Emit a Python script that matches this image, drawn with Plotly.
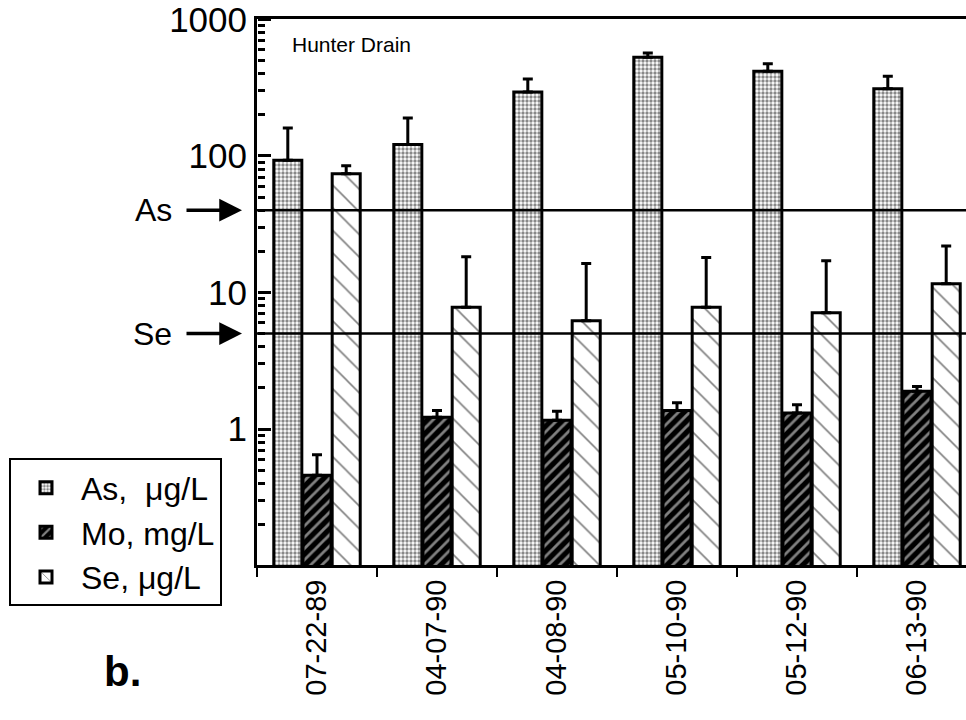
import math
import plotly.graph_objects as go

# Sampling dates (x categories)
dates = ["07-22-89", "04-07-90", "04-08-90", "05-10-90", "05-12-90", "06-13-90"]

# Mean concentrations and upper error bounds
as_mean = [93, 121, 293, 528, 417, 310]          # As, ug/L
as_upper = [160, 189, 365, 567, 472, 382]
mo_mean = [0.46, 1.22, 1.16, 1.37, 1.31, 1.89]   # Mo, mg/L
mo_upper = [0.65, 1.37, 1.35, 1.56, 1.51, 2.05]
se_mean = [74, 7.8, 6.2, 7.8, 7.1, 11.6]         # Se, ug/L
se_upper = [84.5, 18.3, 16.3, 18.0, 17.1, 21.9]

# Water-quality criteria drawn as horizontal lines
criteria_names = ["As", "Se"]
criteria_values = [40, 5]

y_ticks = [1, 10, 100, 1000]
y_ticktext = ["1", "10", "100", "1000"]
# minor ticks at 2..9 within each decade
y_minor = [k * 10 ** d for d in range(-1, 3) for k in range(2, 10)]

FONT = "Liberation Sans"
Y_RANGE = [-0.995, 3.002]


def upper_err(mean, upper):
    return [u - m for m, u in zip(mean, upper)]


def err(mean, upper):
    return dict(type="data", symmetric=False, array=upper_err(mean, upper),
                arrayminus=[0] * len(mean), color="black", thickness=3, width=5)


fig = go.Figure()
fig.add_trace(go.Bar(
    x=dates, y=as_mean, name="As,  \u03bcg/L", error_y=err(as_mean, as_upper),
    marker=dict(color="white", line=dict(color="black", width=3),
                pattern=dict(shape=".", fgcolor="#111111", bgcolor="white",
                             size=4, solidity=0.55)),
))
fig.add_trace(go.Bar(
    x=dates, y=mo_mean, name="Mo, mg/L", error_y=err(mo_mean, mo_upper),
    marker=dict(color="black", line=dict(color="black", width=3),
                pattern=dict(shape="/", fgcolor="white", bgcolor="black",
                             size=8, solidity=0.35)),
))
fig.add_trace(go.Bar(
    x=dates, y=se_mean, name="Se, \u03bcg/L", error_y=err(se_mean, se_upper),
    marker=dict(color="white", line=dict(color="black", width=3),
                pattern=dict(shape="\\", fgcolor="black", bgcolor="white",
                             size=16, solidity=0.1)),
))

# Criteria lines across the plot, with arrow labels on the left
plot_w = 966 - 257
for name, val in zip(criteria_names, criteria_values):
    fig.add_shape(type="line", xref="paper", x0=0, x1=1, yref="y", y0=val, y1=val,
                  line=dict(color="black", width=2.5), layer="above")
    ylog = math.log10(val)  # annotations on a log axis take log10 positions
    fig.add_annotation(xref="paper", x=(174 - 257) / plot_w, xanchor="right",
                       yref="y", y=ylog, yanchor="middle", text=name, showarrow=False,
                       font=dict(family=FONT, size=32, color="black"))
    fig.add_annotation(xref="paper", x=(242 - 257) / plot_w, yref="y", y=ylog,
                       text="", showarrow=True, ax=-57, ay=0, arrowhead=2,
                       arrowsize=1.3, arrowwidth=3.5, arrowcolor="black", standoff=0)

fig.add_annotation(xref="paper", x=33 / plot_w, xanchor="left", yref="paper",
                   y=0.954, yanchor="middle", text="Hunter Drain", showarrow=False,
                   font=dict(family=FONT, size=21, color="black"))
fig.add_annotation(xref="paper", x=(122 - 257) / plot_w, xanchor="center",
                   yref="paper", y=(565 - 672) / 548, yanchor="middle",
                   text="<b>b.</b>", showarrow=False,
                   font=dict(family=FONT, size=42, color="black"))

# tick-only axes sitting on the left spine, with their ticks pointing into the plot
tick_axis = dict(type="log", range=Y_RANGE, overlaying="y", side="right",
                 anchor="free", position=0, showline=False, ticks="outside",
                 tickcolor="black", tickmode="array", showticklabels=False,
                 showgrid=False, zeroline=False)

fig.update_layout(
    width=966, height=720, autosize=False,
    margin=dict(l=257, r=0, t=17, b=155, pad=0),
    paper_bgcolor="white", plot_bgcolor="white",
    barmode="group", bargap=0.27, bargroupgap=0.04,
    font=dict(family=FONT, color="black"),
    legend=dict(x=(9 - 257) / plot_w, xanchor="left", y=(565 - 458) / 548,
                yanchor="top", bgcolor="white", bordercolor="black", borderwidth=2,
                itemwidth=60,
                font=dict(family=FONT, size=32, color="black"), traceorder="normal"),
    xaxis=dict(type="category", range=[-0.5, -0.5 + plot_w / 120],
               showline=True, linecolor="black", linewidth=3, mirror=True,
               ticks="outside", tickson="boundaries", ticklen=9, tickwidth=2,
               tickcolor="black", tickangle=-90, showgrid=False,
               tickfont=dict(family=FONT, size=29, color="black")),
    yaxis=dict(type="log", range=Y_RANGE, showline=True, linecolor="black",
               linewidth=3, ticks="", tickmode="array", tickvals=y_ticks,
               ticktext=y_ticktext, showgrid=False, zeroline=False,
               ticklabeloverflow="allow",
               tickfont=dict(family=FONT, size=35, color="black")),
    yaxis2=dict(tick_axis, ticklen=13, tickwidth=2.5, tickvals=y_ticks),
    yaxis3=dict(tick_axis, ticklen=7, tickwidth=2.5, tickvals=y_minor),
)

# invisible traces that attach the tick-only axes to the plot
for ax_name in ["y2", "y3"]:
    fig.add_trace(go.Scatter(x=[dates[0]], y=[1], yaxis=ax_name, mode="markers",
                             marker=dict(opacity=0), showlegend=False,
                             hoverinfo="skip"))

fig.write_html("out.html")
